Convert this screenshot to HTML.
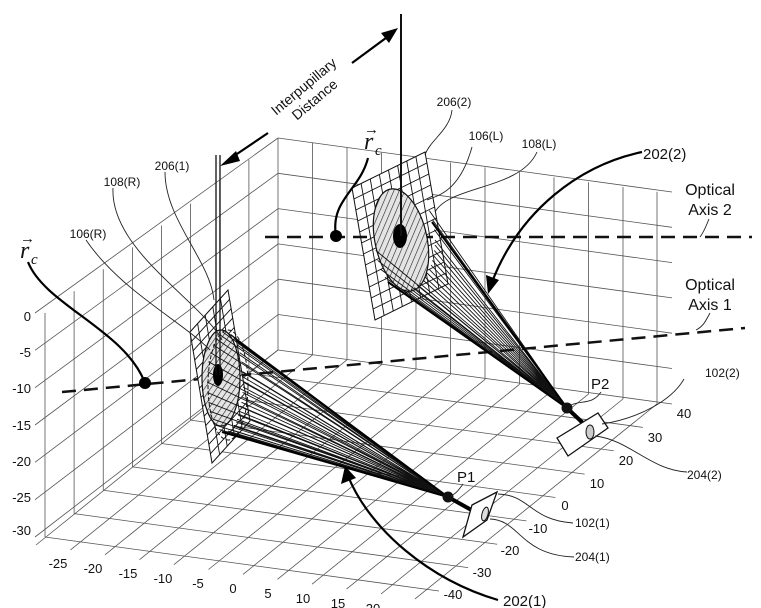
<!DOCTYPE html>
<html><head><meta charset="utf-8"><style>
html,body{margin:0;padding:0;background:#fff;}
svg{display:block;font-family:"Liberation Sans",sans-serif;}
</style></head><body>
<svg width="761" height="608" viewBox="0 0 761 608" xmlns="http://www.w3.org/2000/svg">
<defs>
<pattern id="hatch" patternUnits="userSpaceOnUse" width="5" height="5" patternTransform="rotate(35)">
<rect width="5" height="5" fill="#e4e4e4"/><line x1="0" y1="0" x2="0" y2="5" stroke="#222" stroke-width="1.2"/>
</pattern>
</defs>
<g stroke="#555" stroke-width="0.8" fill="none">
<path d="M278,138V350M312.5,142.9V354.9M347,147.8V359.8M381.5,152.7V364.7M416,157.6V369.6M450.5,162.5V374.5M485,167.4V379.4M519.5,172.3V384.3M554,177.2V389.2M588.5,182.1V394.1M623,187V399M657,191.9V403.9"/>
<path d="M278,138L672,192M278,173.3L672,227.3M278,208.6L672,262.6M278,243.9L672,297.9M278,279.2L672,333.2M278,314.5L672,368.5"/>
<path d="M248.9,159.9V373.4M219.75,181.75V396.75M190.6,203.6V420.1M161.5,225.5V443.5M132.4,247.4V466.9M103.25,269.25V490.25M74.1,291.1V513.6M45,313V537"/>
<path d="M35,313L278,138M35,350.3L278,173.3M35,387.7L278,208.7M35,425L278,244M35,462.3L278,279.3M35,499.7L278,314.7M35,537L278,350"/>
<path d="M278,350L672,404M248.9,373.4L642.9,427.4M219.75,396.75L613.75,450.75M190.6,420.1L584.6,474.1M161.5,443.5L555.5,497.5M132.4,466.9L526.4,520.9M103.25,490.25L497.25,544.25M74.1,513.6L468.1,567.6M45,537L439,591"/>
<path d="M278,350L36,545M312.5,354.9L70.5,549.9M347,359.8L105,554.8M381.5,364.7L139.5,559.7M416,369.6L174,564.6M450.5,374.5L208.5,569.5M485,379.4L243,574.4M519.5,384.3L277.5,579.3M554,389.2L312,584.2M588.5,394.1L346.5,589.1M623,399L381,594M657,403.9L415,598.9"/>
</g>
<g font-size="13" fill="#111" text-anchor="end">
<text x="31" y="321">0</text><text x="31" y="357">-5</text><text x="31" y="393">-10</text><text x="31" y="430">-15</text><text x="31" y="466">-20</text><text x="31" y="502">-25</text><text x="31" y="535">-30</text>
</g>
<g font-size="13" fill="#111" text-anchor="middle">
<text x="58" y="568">-25</text><text x="93" y="573">-20</text><text x="128" y="578">-15</text><text x="163" y="583">-10</text><text x="198" y="588">-5</text><text x="233" y="593">0</text><text x="268" y="598">5</text><text x="303" y="603">10</text><text x="338" y="608">15</text><text x="373" y="613">20</text><text x="408" y="618">25</text>
</g>
<g font-size="13" fill="#111" text-anchor="middle">
<text x="684" y="418">40</text><text x="655" y="442">30</text><text x="626" y="465">20</text><text x="597" y="488">10</text><text x="565" y="510">0</text><text x="538" y="533">-10</text><text x="510" y="555">-20</text><text x="482" y="577">-30</text><text x="453" y="599">-40</text>
</g>

<path d="M62,392L745,328" stroke="#111" stroke-width="2.5" stroke-dasharray="14 8" fill="none"/>

<g transform="matrix(38,-42,22,131,190,332)">
<rect x="0" y="0" width="1" height="1" fill="#fff" stroke="#111" stroke-width="1" vector-effect="non-scaling-stroke"/>
<path vector-effect="non-scaling-stroke" stroke="#111" stroke-width="0.9" fill="none" d="M0.2,0V1M0.4,0V1M0.6,0V1M0.8,0V1M0,0.0714H1M0,0.1429H1M0,0.2143H1M0,0.2857H1M0,0.3571H1M0,0.4286H1M0,0.5H1M0,0.5714H1M0,0.6429H1M0,0.7143H1M0,0.7857H1M0,0.8571H1M0,0.9286H1"/>
</g>
<ellipse cx="221" cy="378" rx="19" ry="48" fill="url(#hatch)" stroke="#111" stroke-width="1.2"/>
<ellipse cx="228" cy="385" rx="20" ry="55" fill="none" stroke="#111" stroke-width="1" stroke-dasharray="4 2"/>
<g stroke="#111" stroke-width="0.9">
<path d="M243,382L448,497M242.6,392.4L448,497M241.5,402.3L448,497M239.6,411.4L448,497M237,419.2L448,497M234,425.3L448,497M230.6,429.6L448,497M226.9,431.7L448,497M223.1,431.7L448,497M219.4,429.6L448,497M216,425.3L448,497M213,419.2L448,497M210.4,411.4L448,497M208.5,402.3L448,497M207.4,392.4L448,497M207,382L448,497M207.4,371.6L448,497M208.5,361.7L448,497M210.4,352.6L448,497M213,344.8L448,497M216,338.7L448,497M219.4,334.4L448,497M223.1,332.3L448,497M226.9,332.3L448,497M230.6,334.4L448,497M234,338.7L448,497M237,344.8L448,497M239.6,352.6L448,497M241.5,361.7L448,497M242.6,371.6L448,497M243,377L448,497M243,387L448,497M242,397L448,497M240,406L448,497M238,415L448,497M236,422L448,497M232,427L448,497M228,431L448,497"/>
</g>
<path d="M236,340L448,497L222,432" stroke="#000" stroke-width="2" fill="none"/>
<ellipse cx="218" cy="375" rx="5" ry="11" fill="#000"/>
<line x1="216" y1="155" x2="216" y2="375" stroke="#111" stroke-width="1.3"/>
<line x1="220" y1="155" x2="220" y2="375" stroke="#111" stroke-width="1.3"/>

<g transform="matrix(73,-36,23,132,352,188)">
<rect x="0" y="0" width="1" height="1" fill="#fff" stroke="#111" stroke-width="1" vector-effect="non-scaling-stroke"/>
<path vector-effect="non-scaling-stroke" stroke="#111" stroke-width="0.9" fill="none" d="M0.125,0V1M0.25,0V1M0.375,0V1M0.5,0V1M0.625,0V1M0.75,0V1M0.875,0V1M0,0.0833H1M0,0.1667H1M0,0.25H1M0,0.3333H1M0,0.4167H1M0,0.5H1M0,0.5833H1M0,0.6667H1M0,0.75H1M0,0.8333H1M0,0.9167H1"/>
</g>
<path d="M265,237L752,237" stroke="#111" stroke-width="2.5" stroke-dasharray="14 8" fill="none"/>
<ellipse cx="401" cy="240" rx="26" ry="52" fill="url(#hatch)" stroke="#111" stroke-width="1.2" transform="rotate(-12 401 240)"/>
<g stroke="#111" stroke-width="0.9">
<path d="M435,240L567,408M434.3,250.4L567,408M432.4,260.4L567,408M429.3,269.4L567,408M425.1,277.2L567,408M420,283.3L567,408M414.3,287.6L567,408M408.2,289.8L567,408M401.9,289.8L567,408M395.7,287.6L567,408M390,283.3L567,408M384.9,277.2L567,408M380.7,269.4L567,408M377.6,260.4L567,408M375.7,250.4L567,408M434.3,229.6L567,408M432.4,219.6L567,408M429.3,210.6L567,408M435,245L567,408M433,255L567,408M431,265L567,408M427,273L567,408M423,280L567,408M417,285L567,408M411,289L567,408M405,290L567,408M398,289L567,408M393,286L567,408"/>
</g>
<path d="M432,222L567,408L388,282" stroke="#000" stroke-width="2" fill="none"/>
<ellipse cx="400" cy="236" rx="7" ry="12" fill="#000"/>
<line x1="401" y1="14" x2="401" y2="236" stroke="#111" stroke-width="2"/>

<line x1="448" y1="497" x2="475" y2="512" stroke="#000" stroke-width="4"/>
<line x1="567" y1="408" x2="585" y2="425" stroke="#000" stroke-width="4"/>
<circle cx="448" cy="497" r="5.5" fill="#111"/>
<circle cx="567" cy="408" r="5.5" fill="#111"/>
<polygon points="472,505 497,492 487,520 463,537" fill="#fff" stroke="#111" stroke-width="1.3"/>
<ellipse cx="485" cy="514" rx="3" ry="7" fill="#ddd" stroke="#111" transform="rotate(15 485 514)"/>
<polygon points="557,438 598,413 608,428 568,456" fill="#fff" stroke="#111" stroke-width="1.3"/>
<ellipse cx="590" cy="432" rx="4" ry="7" fill="#ccc" stroke="#111"/>

<circle cx="145" cy="383" r="6" fill="#000"/>
<circle cx="336" cy="236" r="6" fill="#000"/>

<g stroke="#000" stroke-width="2.2" fill="none">
<path d="M28,262 C45,305 125,330 145,383"/>
<path d="M368,158 C360,190 330,200 336,236"/>
<path d="M642,152 C580,165 520,210 492,282"/>
<path d="M498,600 C430,580 370,530 348,476"/>
<path d="M268,133 L228,160"/>
<path d="M352,63 L390,35"/>
</g>
<polygon points="488,294 486,275 499,280" fill="#000"/>
<polygon points="345,466 341,484 356,478" fill="#000"/>
<polygon points="220,166 236,151 240,161" fill="#000"/>
<polygon points="398,28 381,33 389,43" fill="#000"/>

<g stroke="#222" stroke-width="0.9" fill="none">
<path d="M165,172 C165,220 210,260 214,300"/>
<path d="M113,188 C110,250 200,300 222,340"/>
<path d="M86,240 C120,290 180,320 210,350"/>
<path d="M452,110 C450,130 430,140 425,155"/>
<path d="M472,147 C460,190 440,195 427,200"/>
<path d="M537,152 C520,190 450,185 435,212"/>
<path d="M709,219 C706,226 704,232 700,237"/>
<path d="M710,313 C706,320 704,326 696,330"/>
<path d="M601,392 C592,405 582,400 571,405"/>
<path d="M684,379 C672,400 640,418 602,424"/>
<path d="M687,472 C650,470 630,440 595,436"/>
<path d="M463,484 C456,494 454,494 451,496"/>
<path d="M573,523 C530,520 530,495 498,494"/>
<path d="M574,557 C520,555 520,520 490,519"/>
</g>

<g fill="#111" font-size="12">
<text x="172" y="170" text-anchor="middle">206(1)</text>
<text x="122" y="186" text-anchor="middle">108(R)</text>
<text x="88" y="238" text-anchor="middle">106(R)</text>
<text x="454" y="106" text-anchor="middle">206(2)</text>
<text x="486" y="140" text-anchor="middle">106(L)</text>
<text x="539" y="148" text-anchor="middle">108(L)</text>
<text x="705" y="377">102(2)</text>
<text x="687" y="479">204(2)</text>
<text x="575" y="527">102(1)</text>
<text x="575" y="561">204(1)</text>
</g>
<g fill="#111" font-size="15">
<text x="643" y="159">202(2)</text>
<text x="503" y="606">202(1)</text>
<text x="591" y="389">P2</text>
<text x="457" y="482">P1</text>
</g>
<g fill="#111" font-size="16" text-anchor="middle">
<text x="710" y="195">Optical</text><text x="710" y="215">Axis 2</text>
<text x="710" y="290">Optical</text><text x="710" y="310">Axis 1</text>
</g>
<g fill="#111" font-size="14" text-anchor="middle" transform="rotate(-40 310 94)">
<text x="310" y="89">Interpupillary</text>
<text x="310" y="106">Distance</text>
</g>
<g fill="#111" font-family="'Liberation Serif',serif" font-style="italic">
<text x="20" y="258" font-size="24">r</text><text x="31" y="264" font-size="15">c</text>
<text x="20" y="243" font-size="15" font-style="normal">→</text>
<text x="364" y="149" font-size="24">r</text><text x="375" y="155" font-size="15">c</text>
<text x="364" y="134" font-size="15" font-style="normal">→</text>
</g>
</svg>
</body></html>
